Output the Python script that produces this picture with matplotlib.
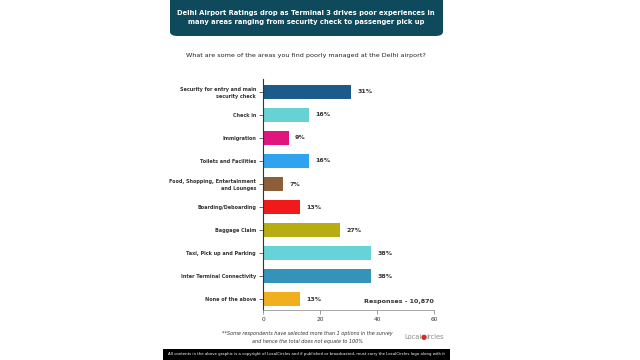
import matplotlib.pyplot as plt
from matplotlib.patches import FancyBboxPatch, Rectangle

# data
areas = ['Security for entry and main\nsecurity check', 'Check in', 'Immigration',
         'Toilets and Facilities', 'Food, Shopping, Entertainment\nand Lounges',
         'Boarding/Deboarding', 'Baggage Claim', 'Taxi, Pick up and Parking',
         'Inter Terminal Connectivity', 'None of the above']
pct = [31, 16, 9, 16, 7, 13, 27, 38, 38, 13]
colors = ['#1d5a8c', '#66d2d4', '#e0157f', '#2fa3f0', '#8c5e3a',
          '#f01a1a', '#b5ad12', '#66d3d8', '#3593b9', '#f0b01e']
xticks = [0, 20, 40, 60]

title = ('Delhi Airport Ratings drop as Terminal 3 drives poor experiences in\n'
         'many areas ranging from security check to passenger pick up')
question = 'What are some of the areas you find poorly managed at the Delhi airport?'
responses = 'Responses - 10,870'
footnote = ('**Some respondents have selected more than 1 options in the survey\n'
            'and hence the total does not equate to 100%')
footer = ('All contents in the above graphic is a copyright of LocalCircles and if published or '
          'broadcasted, must carry the LocalCircles logo along with it')

fig = plt.figure(figsize=(6.4, 3.6), dpi=100)
fig.patch.set_facecolor('white')

# title box
box = FancyBboxPatch((170 / 640, 1 - 36 / 360), 273 / 640, 40 / 360,
                     boxstyle='round,pad=0,rounding_size=0.012',
                     transform=fig.transFigure, facecolor='#0f4a5c', edgecolor='none')
fig.patches.append(box)
fig.text(306 / 640, 1 - 17.5 / 360, title, ha='center', va='center', color='white',
         fontsize=4.85, fontweight='bold', linespacing=1.7)
fig.text(306 / 640, 1 - 56 / 360, question, ha='center', va='center',
         color='#222222', fontsize=4.6)

ax = fig.add_axes([263 / 640, 50 / 360, 171 / 640, 231 / 360])
y = list(range(len(areas)))
ax.barh(y, pct, height=0.6, color=colors)
ax.set_ylim(9.478, -0.565)
ax.set_xlim(0, 60)
ax.set_yticks(y)
ax.set_yticklabels(areas, fontsize=3.5, fontweight='bold', color='#333333',
                   linespacing=1.3)
ax.set_xticks(xticks)
ax.set_xticklabels([str(t) for t in xticks], fontsize=4.2, color='#333333')
ax.tick_params(axis='y', length=3, width=0.6, color='#555555', pad=2)
ax.tick_params(axis='x', length=3, width=0.6, color='#888888', pad=2)
for s in ['top', 'right']:
    ax.spines[s].set_visible(False)
ax.spines['left'].set_color('#333333')
ax.spines['left'].set_linewidth(0.8)
ax.spines['bottom'].set_color('#999999')
ax.spines['bottom'].set_linewidth(0.6)

for yi, v in zip(y, pct):
    ax.text(v + 2.2, yi, f'{v}%', va='center', ha='left', fontsize=4.5,
            fontweight='bold', color='#333333')

ax.text(60, 9.1, responses, ha='right', va='center', fontsize=4.6,
        fontweight='bold', color='#333333')

fig.text(307 / 640, 1 - 337.5 / 360, footnote, ha='center', va='center',
         fontsize=3.5, style='italic', color='#333333', linespacing=1.7)
fig.text(404 / 640, 1 - 337 / 360, 'Local', ha='left', va='center',
         fontsize=4.8, color='#8a8a8a')
fig.text(420.5 / 640, 1 - 337 / 360, '\u25cf', ha='left', va='center',
         fontsize=5, color='#d52a2a')
fig.text(426.5 / 640, 1 - 337 / 360, 'ircles', ha='left', va='center',
         fontsize=4.8, color='#8a8a8a')

fig.patches.append(Rectangle((163 / 640, 0), 287 / 640, 11 / 360,
                             transform=fig.transFigure, facecolor='black',
                             edgecolor='none'))
fig.text(306 / 640, 5.5 / 360, footer, ha='center', va='center',
         fontsize=2.75, color='white')

fig.savefig('out.png', dpi=100)
